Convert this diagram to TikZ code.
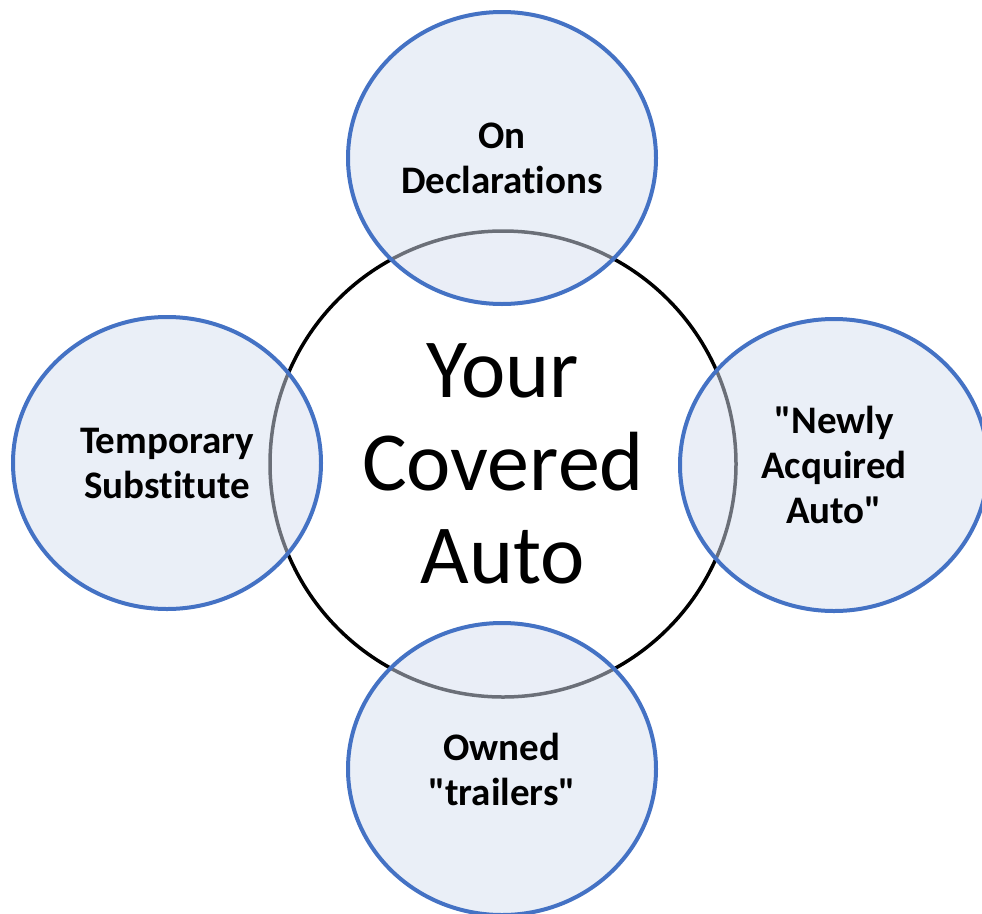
\documentclass[tikz,border=0pt]{standalone}
\usepackage{fontspec}
\setmainfont{Carlito}[Ligatures={TeXOff,NoCommon}]
\usepackage{xcolor}
\usepackage{tikz}
\usetikzlibrary{shapes,shapes.geometric,positioning}
\definecolor{ringblue}{RGB}{68,114,196}
\definecolor{bubblefill}{RGB}{214,223,240}
\tikzset{
  core/.style={circle, draw=black, fill=white, line width=3.5pt,
  minimum size=466pt, inner sep=0pt, align=center,
  font=\fontsize{84}{93}\selectfont},
  bubble/.style={ellipse, draw=ringblue, line width=4pt, fill=bubblefill,
  fill opacity=0.5, text opacity=1, minimum width=308pt, minimum height=292pt,
  inner sep=0pt, align=center, font=\bfseries\fontsize{39}{45}\selectfont}
}
\begin{document}
\begin{tikzpicture}[x=1pt,y=-1pt]
    \path[use as bounding box,clip] (0,0) rectangle (982,913);
    \node (A) [core] at (503,464) {Your\\Covered\\Auto};
    \node (B) [bubble] at (502,158) {On\\Declarations};
    \node (C) [bubble] at (834,465) {"Newly\\Acquired\\Auto"};
    \node (D) [bubble] at (502,769) {Owned\\"trailers"};
    \node (E) [bubble] at (167,463) {Temporary\\Substitute};
\end{tikzpicture}
\end{document}
